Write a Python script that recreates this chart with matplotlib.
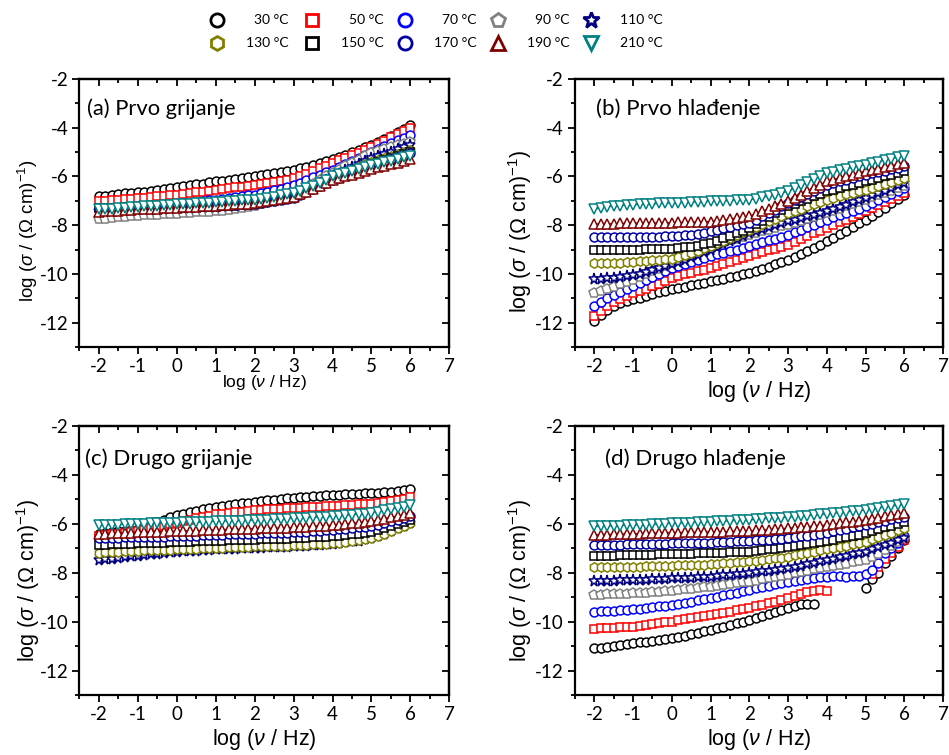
import numpy as np
import matplotlib
matplotlib.use('Agg')
import matplotlib.pyplot as plt
from matplotlib.ticker import MultipleLocator

# ---------------- fonts ----------------
plt.rcParams['font.family'] = 'Lato'
plt.rcParams['axes.unicode_minus'] = False
plt.rcParams['mathtext.fontset'] = 'custom'
plt.rcParams['mathtext.rm'] = 'Liberation Sans'
plt.rcParams['mathtext.it'] = 'Liberation Sans:italic'

nan = float('nan')

# ---------------- data ----------------
log_freq = [-2.00, -1.83, -1.67, -1.50, -1.33, -1.17,
            -1.00, -0.83, -0.67, -0.50, -0.33, -0.17,
            0.00, 0.17, 0.33, 0.50, 0.67, 0.83,
            1.00, 1.17, 1.33, 1.50, 1.67, 1.83,
            2.00, 2.17, 2.33, 2.50, 2.67, 2.83,
            3.00, 3.17, 3.33, 3.50, 3.67, 3.83,
            4.00, 4.17, 4.33, 4.50, 4.67, 4.83,
            5.00, 5.17, 5.33, 5.50, 5.67, 5.83,
            6.00]

temps = ['30 °C', '50 °C', '70 °C', '90 °C', '110 °C',
         '130 °C', '150 °C', '170 °C', '190 °C', '210 °C']
colors = ['#000000', '#FF0000', '#0000FF', '#808080', '#000080',
          '#808000', '#000000', '#0000A0', '#800000', '#008080']
markers = ['o', 's', 'o', 'p', '*', 'h', 's', 'o', '^', 'v']
msizes = [6.4, 5.8, 6.4, 7.0, 8.2, 6.8, 5.8, 6.4, 7.2, 7.2]
leg_msizes = [9.5, 8.5, 9.5, 10.5, 12.0, 10.0, 8.5, 9.5, 10.5, 10.5]

# (a) Prvo grijanje
a_030 = [-6.82, -6.79, -6.76, -6.73, -6.70, -6.68, -6.65,
         -6.62, -6.58, -6.55, -6.52, -6.48, -6.45,
         -6.41, -6.37, -6.33, -6.29, -6.24, -6.20,
         -6.17, -6.13, -6.10, -6.07, -6.03, -6.00,
         -5.96, -5.91, -5.87, -5.82, -5.77, -5.72,
         -5.66, -5.60, -5.53, -5.46, -5.38, -5.30,
         -5.21, -5.11, -5.01, -4.91, -4.81, -4.70,
         -4.58, -4.45, -4.32, -4.18, -4.04, -3.90]
a_050 = [-7.02, -7.00, -6.98, -6.96, -6.94, -6.92, -6.90,
         -6.87, -6.85, -6.82, -6.80, -6.77, -6.75,
         -6.72, -6.68, -6.65, -6.62, -6.58, -6.55,
         -6.52, -6.48, -6.45, -6.42, -6.38, -6.35,
         -6.31, -6.27, -6.23, -6.18, -6.13, -6.07,
         -5.98, -5.88, -5.77, -5.67, -5.56, -5.45,
         -5.34, -5.23, -5.12, -5.02, -4.91, -4.80,
         -4.67, -4.54, -4.40, -4.27, -4.13, -4.00]
a_070 = [-7.63, -7.59, -7.55, -7.51, -7.47, -7.43, -7.40,
         -7.36, -7.32, -7.28, -7.23, -7.19, -7.15,
         -7.12, -7.08, -7.05, -7.02, -6.98, -6.95,
         -6.92, -6.88, -6.85, -6.82, -6.78, -6.75,
         -6.69, -6.63, -6.57, -6.50, -6.43, -6.35,
         -6.25, -6.15, -6.04, -5.94, -5.83, -5.72,
         -5.60, -5.48, -5.36, -5.23, -5.10, -4.98,
         -4.87, -4.75, -4.64, -4.52, -4.41, -4.30]
a_090 = [-7.75, -7.73, -7.70, -7.68, -7.66, -7.64, -7.62,
         -7.60, -7.59, -7.57, -7.56, -7.54, -7.53,
         -7.51, -7.50, -7.48, -7.46, -7.45, -7.43,
         -7.40, -7.37, -7.33, -7.29, -7.25, -7.20,
         -7.13, -7.06, -6.99, -6.92, -6.86, -6.80,
         -6.64, -6.48, -6.32, -6.16, -6.00, -5.85,
         -5.72, -5.59, -5.45, -5.32, -5.18, -5.05,
         -4.97, -4.89, -4.81, -4.73, -4.65, -4.57]
a_110 = [-7.40, -7.39, -7.38, -7.37, -7.36, -7.36, -7.35,
         -7.34, -7.33, -7.32, -7.32, -7.31, -7.30,
         -7.29, -7.28, -7.27, -7.27, -7.26, -7.25,
         -7.23, -7.22, -7.20, -7.18, -7.17, -7.15,
         -7.10, -7.05, -7.00, -6.95, -6.90, -6.85,
         -6.71, -6.57, -6.42, -6.28, -6.14, -6.00,
         -5.88, -5.75, -5.63, -5.50, -5.38, -5.25,
         -5.16, -5.07, -4.98, -4.88, -4.79, -4.70]
a_130 = [-7.35, -7.34, -7.33, -7.33, -7.32, -7.31, -7.30,
         -7.29, -7.28, -7.27, -7.27, -7.26, -7.25,
         -7.24, -7.23, -7.22, -7.22, -7.21, -7.20,
         -7.19, -7.17, -7.16, -7.15, -7.13, -7.12,
         -7.08, -7.03, -6.99, -6.94, -6.90, -6.85,
         -6.72, -6.58, -6.45, -6.32, -6.18, -6.05,
         -5.94, -5.83, -5.72, -5.62, -5.51, -5.40,
         -5.32, -5.23, -5.15, -5.07, -4.98, -4.90]
a_150 = [-7.30, -7.29, -7.28, -7.28, -7.27, -7.26, -7.25,
         -7.24, -7.23, -7.22, -7.22, -7.21, -7.20,
         -7.19, -7.18, -7.17, -7.17, -7.16, -7.15,
         -7.14, -7.13, -7.12, -7.12, -7.11, -7.10,
         -7.06, -7.02, -6.98, -6.93, -6.89, -6.85,
         -6.73, -6.60, -6.48, -6.35, -6.23, -6.10,
         -6.00, -5.90, -5.80, -5.70, -5.60, -5.50,
         -5.42, -5.33, -5.25, -5.17, -5.08, -5.00]
a_170 = [-7.35, -7.34, -7.33, -7.33, -7.32, -7.31, -7.30,
         -7.29, -7.28, -7.27, -7.27, -7.26, -7.25,
         -7.24, -7.23, -7.22, -7.22, -7.21, -7.20,
         -7.19, -7.17, -7.16, -7.15, -7.13, -7.12,
         -7.08, -7.05, -7.01, -6.97, -6.94, -6.90,
         -6.78, -6.65, -6.53, -6.40, -6.28, -6.15,
         -6.05, -5.95, -5.85, -5.75, -5.65, -5.55,
         -5.47, -5.38, -5.30, -5.22, -5.13, -5.05]
a_190 = [-7.45, -7.43, -7.42, -7.40, -7.38, -7.37, -7.35,
         -7.34, -7.33, -7.32, -7.30, -7.29, -7.28,
         -7.27, -7.25, -7.24, -7.23, -7.21, -7.20,
         -7.18, -7.17, -7.15, -7.13, -7.12, -7.10,
         -7.06, -7.02, -6.98, -6.93, -6.89, -6.85,
         -6.73, -6.62, -6.50, -6.38, -6.27, -6.15,
         -6.08, -6.00, -5.93, -5.85, -5.78, -5.70,
         -5.63, -5.57, -5.50, -5.43, -5.37, -5.30]
a_210 = [-7.35, -7.33, -7.32, -7.30, -7.28, -7.27, -7.25,
         -7.23, -7.22, -7.20, -7.18, -7.17, -7.15,
         -7.13, -7.12, -7.10, -7.08, -7.07, -7.05,
         -7.03, -7.02, -7.00, -6.98, -6.97, -6.95,
         -6.91, -6.87, -6.83, -6.78, -6.74, -6.70,
         -6.60, -6.49, -6.38, -6.26, -6.13, -6.00,
         -5.92, -5.85, -5.77, -5.70, -5.62, -5.55,
         -5.48, -5.42, -5.35, -5.28, -5.22, -5.15]

# (b) Prvo hlađenje
b_030 = [-11.93, -11.69, -11.48, -11.32, -11.20, -11.12, -11.05,
         -10.97, -10.90, -10.83, -10.76, -10.70, -10.64,
         -10.58, -10.52, -10.47, -10.41, -10.36, -10.30,
         -10.25, -10.19, -10.13, -10.08, -10.02, -9.96,
         -9.88, -9.79, -9.70, -9.61, -9.51, -9.41,
         -9.30, -9.18, -9.06, -8.93, -8.80, -8.66,
         -8.52, -8.37, -8.22, -8.07, -7.92, -7.77,
         -7.61, -7.45, -7.28, -7.11, -6.93, -6.75]
b_050 = [-11.73, -11.52, -11.33, -11.16, -11.02, -10.90, -10.80,
         -10.70, -10.60, -10.50, -10.40, -10.28, -10.16,
         -10.09, -10.02, -9.95, -9.88, -9.82, -9.75,
         -9.67, -9.59, -9.51, -9.43, -9.35, -9.27,
         -9.19, -9.11, -9.03, -8.96, -8.88, -8.80,
         -8.69, -8.57, -8.46, -8.34, -8.23, -8.11,
         -8.00, -7.89, -7.77, -7.66, -7.54, -7.43,
         -7.31, -7.18, -7.06, -6.93, -6.81, -6.68]
b_070 = [-11.32, -11.15, -10.99, -10.85, -10.73, -10.61, -10.50,
         -10.37, -10.24, -10.12, -9.99, -9.87, -9.75,
         -9.67, -9.59, -9.51, -9.43, -9.35, -9.27,
         -9.20, -9.13, -9.06, -9.00, -8.93, -8.86,
         -8.78, -8.70, -8.62, -8.55, -8.47, -8.39,
         -8.29, -8.19, -8.08, -7.98, -7.87, -7.77,
         -7.68, -7.59, -7.50, -7.41, -7.32, -7.23,
         -7.10, -6.97, -6.85, -6.72, -6.60, -6.47]
b_090 = [-10.77, -10.70, -10.62, -10.53, -10.43, -10.33, -10.23,
         -10.12, -10.01, -9.89, -9.78, -9.66, -9.55,
         -9.43, -9.32, -9.20, -9.09, -8.97, -8.86,
         -8.78, -8.70, -8.62, -8.55, -8.47, -8.39,
         -8.32, -8.25, -8.18, -8.12, -8.05, -7.98,
         -7.90, -7.82, -7.74, -7.66, -7.58, -7.50,
         -7.41, -7.32, -7.22, -7.13, -7.04, -6.95,
         -6.86, -6.77, -6.68, -6.58, -6.49, -6.40]
b_110 = [-10.20, -10.19, -10.18, -10.16, -10.13, -10.09, -10.05,
         -9.99, -9.92, -9.85, -9.77, -9.69, -9.61,
         -9.51, -9.41, -9.31, -9.21, -9.10, -9.00,
         -8.89, -8.77, -8.66, -8.55, -8.43, -8.32,
         -8.24, -8.16, -8.08, -8.00, -7.92, -7.84,
         -7.77, -7.70, -7.63, -7.57, -7.50, -7.43,
         -7.34, -7.25, -7.16, -7.06, -6.97, -6.88,
         -6.78, -6.68, -6.58, -6.47, -6.37, -6.27]
b_130 = [-9.57, -9.57, -9.56, -9.55, -9.54, -9.52, -9.50,
         -9.48, -9.46, -9.44, -9.42, -9.40, -9.37,
         -9.30, -9.22, -9.13, -9.04, -8.95, -8.86,
         -8.75, -8.64, -8.53, -8.41, -8.30, -8.18,
         -8.07, -7.95, -7.84, -7.73, -7.61, -7.50,
         -7.41, -7.32, -7.22, -7.13, -7.04, -6.95,
         -6.88, -6.81, -6.74, -6.68, -6.61, -6.54,
         -6.46, -6.38, -6.30, -6.23, -6.15, -6.07]
b_150 = [-9.03, -9.03, -9.02, -9.02, -9.01, -9.01, -9.00,
         -9.00, -8.99, -8.98, -8.98, -8.97, -8.96,
         -8.94, -8.91, -8.88, -8.84, -8.79, -8.73,
         -8.64, -8.54, -8.43, -8.33, -8.22, -8.11,
         -7.96, -7.81, -7.66, -7.52, -7.37, -7.23,
         -7.13, -7.02, -6.92, -6.82, -6.71, -6.61,
         -6.54, -6.47, -6.40, -6.34, -6.27, -6.20,
         -6.13, -6.06, -6.00, -5.93, -5.86, -5.79]
b_170 = [-8.49, -8.49, -8.49, -8.48, -8.48, -8.48, -8.48,
         -8.48, -8.47, -8.47, -8.47, -8.46, -8.46,
         -8.44, -8.42, -8.39, -8.35, -8.31, -8.25,
         -8.19, -8.13, -8.07, -8.01, -7.96, -7.91,
         -7.77, -7.64, -7.50, -7.36, -7.23, -7.09,
         -6.96, -6.84, -6.71, -6.59, -6.46, -6.34,
         -6.27, -6.20, -6.13, -6.07, -6.00, -5.93,
         -5.87, -5.82, -5.76, -5.70, -5.65, -5.59]
b_190 = [-7.95, -7.95, -7.94, -7.94, -7.93, -7.93, -7.92,
         -7.92, -7.91, -7.91, -7.91, -7.90, -7.90,
         -7.89, -7.89, -7.88, -7.87, -7.86, -7.85,
         -7.82, -7.79, -7.75, -7.71, -7.67, -7.63,
         -7.53, -7.43, -7.33, -7.22, -7.12, -7.02,
         -6.88, -6.75, -6.61, -6.47, -6.34, -6.20,
         -6.13, -6.06, -6.00, -5.93, -5.86, -5.79,
         -5.73, -5.68, -5.62, -5.56, -5.51, -5.45]
b_210 = [-7.34, -7.29, -7.25, -7.22, -7.20, -7.18, -7.16,
         -7.15, -7.14, -7.13, -7.11, -7.10, -7.09,
         -7.08, -7.07, -7.06, -7.04, -7.03, -7.02,
         -7.01, -7.00, -6.99, -6.97, -6.96, -6.95,
         -6.91, -6.86, -6.81, -6.75, -6.68, -6.61,
         -6.48, -6.35, -6.22, -6.10, -5.98, -5.86,
         -5.80, -5.74, -5.69, -5.63, -5.58, -5.52,
         -5.46, -5.40, -5.33, -5.27, -5.21, -5.15]

# (c) Drugo grijanje (70 °C and 90 °C not shown)
c_030 = [-6.40, -6.37, -6.34, -6.31, -6.28, -6.24, -6.20,
         -6.12, -6.03, -5.93, -5.84, -5.74, -5.65,
         -5.58, -5.52, -5.46, -5.40, -5.35, -5.30,
         -5.26, -5.23, -5.19, -5.16, -5.13, -5.10,
         -5.07, -5.04, -5.01, -4.98, -4.96, -4.93,
         -4.91, -4.89, -4.87, -4.86, -4.84, -4.82,
         -4.81, -4.80, -4.79, -4.78, -4.76, -4.75,
         -4.73, -4.71, -4.68, -4.65, -4.62, -4.58]
c_050 = [-6.50, -6.47, -6.43, -6.40, -6.37, -6.33, -6.30,
         -6.24, -6.18, -6.12, -6.07, -6.01, -5.95,
         -5.89, -5.83, -5.78, -5.73, -5.67, -5.62,
         -5.59, -5.56, -5.53, -5.51, -5.48, -5.45,
         -5.43, -5.41, -5.40, -5.38, -5.37, -5.35,
         -5.34, -5.32, -5.31, -5.30, -5.28, -5.27,
         -5.26, -5.24, -5.23, -5.21, -5.20, -5.18,
         -5.14, -5.10, -5.06, -5.01, -4.97, -4.92]
c_070 = None
c_090 = None
c_110 = [-7.48, -7.45, -7.42, -7.39, -7.36, -7.33, -7.30,
         -7.27, -7.25, -7.22, -7.20, -7.17, -7.15,
         -7.13, -7.12, -7.10, -7.08, -7.07, -7.05,
         -7.04, -7.03, -7.02, -7.00, -6.99, -6.98,
         -6.97, -6.96, -6.95, -6.94, -6.93, -6.92,
         -6.90, -6.89, -6.87, -6.85, -6.84, -6.82,
         -6.79, -6.76, -6.72, -6.69, -6.64, -6.60,
         -6.50, -6.40, -6.29, -6.18, -6.07, -5.95]
c_130 = [-7.18, -7.17, -7.15, -7.14, -7.13, -7.11, -7.10,
         -7.09, -7.08, -7.08, -7.07, -7.06, -7.05,
         -7.04, -7.03, -7.02, -7.00, -6.99, -6.98,
         -6.97, -6.96, -6.95, -6.94, -6.93, -6.92,
         -6.91, -6.91, -6.90, -6.89, -6.89, -6.88,
         -6.87, -6.85, -6.84, -6.83, -6.81, -6.80,
         -6.77, -6.74, -6.71, -6.68, -6.64, -6.60,
         -6.50, -6.40, -6.29, -6.18, -6.07, -5.95]
c_150 = [-6.86, -6.85, -6.84, -6.83, -6.82, -6.81, -6.80,
         -6.79, -6.78, -6.78, -6.77, -6.76, -6.75,
         -6.74, -6.73, -6.72, -6.72, -6.71, -6.70,
         -6.69, -6.68, -6.67, -6.67, -6.66, -6.65,
         -6.64, -6.63, -6.62, -6.62, -6.61, -6.60,
         -6.58, -6.57, -6.55, -6.53, -6.52, -6.50,
         -6.48, -6.45, -6.43, -6.40, -6.38, -6.35,
         -6.27, -6.19, -6.10, -6.02, -5.94, -5.85]
c_170 = [-6.59, -6.58, -6.58, -6.57, -6.56, -6.56, -6.55,
         -6.54, -6.53, -6.53, -6.52, -6.51, -6.50,
         -6.49, -6.48, -6.48, -6.47, -6.46, -6.45,
         -6.44, -6.43, -6.43, -6.42, -6.41, -6.40,
         -6.39, -6.38, -6.38, -6.37, -6.36, -6.35,
         -6.33, -6.32, -6.30, -6.28, -6.27, -6.25,
         -6.23, -6.20, -6.18, -6.15, -6.13, -6.10,
         -6.03, -5.97, -5.90, -5.83, -5.77, -5.70]
c_190 = [-6.41, -6.40, -6.39, -6.38, -6.37, -6.36, -6.35,
         -6.34, -6.33, -6.33, -6.32, -6.31, -6.30,
         -6.29, -6.28, -6.28, -6.27, -6.26, -6.25,
         -6.24, -6.23, -6.23, -6.22, -6.21, -6.20,
         -6.19, -6.18, -6.18, -6.17, -6.16, -6.15,
         -6.13, -6.12, -6.10, -6.08, -6.07, -6.05,
         -6.03, -6.00, -5.98, -5.95, -5.93, -5.90,
         -5.85, -5.79, -5.74, -5.68, -5.63, -5.57]
c_210 = [-6.05, -6.04, -6.03, -6.03, -6.02, -6.01, -6.00,
         -5.99, -5.98, -5.98, -5.97, -5.96, -5.95,
         -5.94, -5.93, -5.93, -5.92, -5.91, -5.90,
         -5.89, -5.88, -5.88, -5.87, -5.86, -5.85,
         -5.84, -5.83, -5.82, -5.80, -5.79, -5.78,
         -5.77, -5.75, -5.74, -5.73, -5.71, -5.70,
         -5.68, -5.65, -5.63, -5.60, -5.58, -5.55,
         -5.50, -5.45, -5.40, -5.35, -5.30, -5.25]

# (d) Drugo hlađenje
d_030 = [-11.09, -11.06, -11.02, -10.99, -10.95, -10.92, -10.88,
         -10.85, -10.82, -10.78, -10.75, -10.71, -10.68,
         -10.63, -10.57, -10.51, -10.45, -10.40, -10.34,
         -10.27, -10.20, -10.14, -10.07, -10.00, -9.93,
         -9.85, -9.77, -9.70, -9.62, -9.54, -9.45,
         -9.35, -9.29, -9.26, -9.28, nan, nan,
         nan, nan, nan, nan, nan, -8.63,
         -8.25, -8.00, -7.60, -7.30, -7.00, -6.66]
d_050 = [-10.30, -10.28, -10.27, -10.25, -10.23, -10.22, -10.20,
         -10.17, -10.13, -10.10, -10.07, -10.03, -10.00,
         -9.95, -9.91, -9.86, -9.81, -9.77, -9.72,
         -9.68, -9.63, -9.59, -9.54, -9.50, -9.45,
         -9.38, -9.31, -9.25, -9.18, -9.11, -9.04,
         -8.95, -8.87, -8.80, -8.74, -8.72, -8.76,
         nan, nan, nan, nan, nan, nan,
         -8.05, -7.75, -7.45, -7.20, -6.95, -6.65]
d_070 = [-9.59, -9.58, -9.56, -9.55, -9.53, -9.52, -9.50,
         -9.47, -9.44, -9.41, -9.38, -9.35, -9.32,
         -9.27, -9.23, -9.18, -9.13, -9.09, -9.04,
         -8.98, -8.93, -8.87, -8.81, -8.76, -8.70,
         -8.64, -8.59, -8.53, -8.47, -8.42, -8.36,
         -8.32, -8.28, -8.24, -8.21, -8.18, -8.16,
         -8.15, -8.15, -8.16, -8.15, -8.12, -8.07,
         -7.88, -7.60, -7.20, -7.00, -6.80, -6.50]
d_090 = [-8.91, -8.90, -8.89, -8.88, -8.87, -8.86, -8.85,
         -8.83, -8.81, -8.79, -8.77, -8.75, -8.73,
         -8.70, -8.68, -8.65, -8.62, -8.60, -8.57,
         -8.53, -8.50, -8.46, -8.43, -8.39, -8.36,
         -8.32, -8.27, -8.23, -8.18, -8.14, -8.09,
         -8.03, -7.98, -7.92, -7.86, -7.81, -7.75,
         -7.71, -7.67, -7.63, -7.58, -7.53, -7.48,
         -7.37, -7.23, -7.07, -6.92, -6.76, -6.59]
d_110 = [-8.34, -8.33, -8.33, -8.32, -8.31, -8.31, -8.30,
         -8.29, -8.28, -8.27, -8.25, -8.24, -8.23,
         -8.22, -8.21, -8.20, -8.18, -8.17, -8.16,
         -8.14, -8.11, -8.09, -8.07, -8.04, -8.02,
         -7.99, -7.95, -7.92, -7.89, -7.85, -7.82,
         -7.76, -7.71, -7.65, -7.59, -7.54, -7.48,
         -7.42, -7.37, -7.31, -7.25, -7.20, -7.14,
         -7.05, -6.96, -6.86, -6.77, -6.68, -6.59]
d_130 = [-7.78, -7.78, -7.77, -7.77, -7.77, -7.76, -7.76,
         -7.75, -7.74, -7.73, -7.73, -7.72, -7.71,
         -7.70, -7.69, -7.68, -7.68, -7.67, -7.66,
         -7.64, -7.62, -7.60, -7.58, -7.56, -7.54,
         -7.51, -7.48, -7.44, -7.41, -7.38, -7.34,
         -7.29, -7.24, -7.19, -7.14, -7.09, -7.04,
         -6.99, -6.94, -6.89, -6.83, -6.78, -6.73,
         -6.64, -6.55, -6.46, -6.36, -6.27, -6.18]
d_150 = [-7.31, -7.31, -7.30, -7.30, -7.29, -7.29, -7.28,
         -7.27, -7.27, -7.26, -7.25, -7.25, -7.24,
         -7.23, -7.23, -7.22, -7.21, -7.21, -7.20,
         -7.19, -7.18, -7.17, -7.16, -7.15, -7.14,
         -7.11, -7.08, -7.05, -7.02, -6.99, -6.96,
         -6.92, -6.88, -6.83, -6.79, -6.74, -6.70,
         -6.65, -6.60, -6.55, -6.49, -6.44, -6.39,
         -6.31, -6.23, -6.15, -6.07, -5.99, -5.91]
d_170 = [-6.86, -6.86, -6.85, -6.85, -6.85, -6.84, -6.84,
         -6.83, -6.83, -6.82, -6.81, -6.81, -6.80,
         -6.79, -6.79, -6.78, -6.78, -6.77, -6.77,
         -6.76, -6.75, -6.74, -6.72, -6.71, -6.70,
         -6.68, -6.66, -6.65, -6.63, -6.61, -6.59,
         -6.55, -6.51, -6.48, -6.44, -6.40, -6.36,
         -6.31, -6.26, -6.21, -6.15, -6.10, -6.05,
         -5.99, -5.94, -5.88, -5.82, -5.77, -5.71]
d_190 = [-6.45, -6.44, -6.44, -6.43, -6.42, -6.42, -6.41,
         -6.40, -6.39, -6.38, -6.38, -6.37, -6.36,
         -6.36, -6.35, -6.35, -6.34, -6.34, -6.33,
         -6.32, -6.32, -6.31, -6.30, -6.30, -6.29,
         -6.27, -6.25, -6.24, -6.22, -6.20, -6.18,
         -6.16, -6.14, -6.12, -6.09, -6.07, -6.05,
         -6.01, -5.98, -5.94, -5.91, -5.87, -5.84,
         -5.79, -5.75, -5.70, -5.66, -5.61, -5.57]
d_210 = [-6.11, -6.10, -6.09, -6.08, -6.07, -6.06, -6.05,
         -6.04, -6.03, -6.02, -6.00, -5.99, -5.98,
         -5.97, -5.96, -5.95, -5.93, -5.92, -5.91,
         -5.90, -5.89, -5.88, -5.86, -5.85, -5.84,
         -5.82, -5.80, -5.78, -5.77, -5.75, -5.73,
         -5.71, -5.69, -5.67, -5.64, -5.62, -5.60,
         -5.57, -5.54, -5.51, -5.49, -5.46, -5.43,
         -5.39, -5.35, -5.31, -5.28, -5.24, -5.20]

panel_a = [a_030, a_050, a_070, a_090, a_110, a_130, a_150, a_170, a_190, a_210]
panel_b = [b_030, b_050, b_070, b_090, b_110, b_130, b_150, b_170, b_190, b_210]
panel_c = [c_030, c_050, c_070, c_090, c_110, c_130, c_150, c_170, c_190, c_210]
panel_d = [d_030, d_050, d_070, d_090, d_110, d_130, d_150, d_170, d_190, d_210]

# ---------------- figure ----------------
fig = plt.figure(figsize=(9.49, 7.55), dpi=100)

# panel layout: rect, title, title pos, sizes, label positions
panels = [
    dict(rect=[0.0836, 0.5404, 0.3899, 0.3550], data=panel_a, title='(a) Prvo grijanje',
         tpos=(0.022, 0.888), tsize=15.8, ypos=(-0.138, 0.433), ysize=13.5,
         xpos=-0.134, xsize=12.5),
    dict(rect=[0.6059, 0.5404, 0.3878, 0.3550], data=panel_b, title='(b) Prvo hlađenje',
         tpos=(0.057, 0.888), tsize=16, ypos=(-0.149, 0.433), ysize=15.5,
         xpos=-0.165, xsize=15.5),
    dict(rect=[0.0836, 0.0795, 0.3899, 0.3563], data=panel_c, title='(c) Drugo grijanje',
         tpos=(0.016, 0.877), tsize=16, ypos=(-0.138, 0.427), ysize=15.5,
         xpos=-0.167, xsize=15.5),
    dict(rect=[0.6059, 0.0795, 0.3878, 0.3563], data=panel_d, title='(d) Drugo hlađenje',
         tpos=(0.082, 0.877), tsize=16, ypos=(-0.149, 0.427), ysize=15.5,
         xpos=-0.167, xsize=15.5),
]

ylab = r'log ($\sigma$ / ($\Omega$ cm)$^{-1}$)'
xlab = r'log ($\nu$ / Hz)'

for p in panels:
    ax = fig.add_axes(p['rect'])
    for vals, col, mk, ms in zip(p['data'], colors, markers, msizes):
        if vals is None:
            continue
        ax.plot(log_freq, vals, color=col, lw=0.9, marker=mk, ms=ms,
                mfc='white', mec=col, mew=1.1)

    ax.set_xlim(-2.5, 7)
    ax.set_ylim(-13, -2)
    ax.set_xticks(range(-2, 8))
    ax.set_yticks(range(-12, -1, 2))
    ax.xaxis.set_minor_locator(MultipleLocator(0.5))
    ax.yaxis.set_minor_locator(MultipleLocator(1))
    ax.tick_params(which='both', direction='out', width=1.3, labelsize=13.5)
    ax.tick_params(which='major', length=5)
    ax.tick_params(which='minor', length=3)
    ax.tick_params(axis='y', pad=3)
    ax.tick_params(axis='x', pad=3)
    for s in ax.spines.values():
        s.set_linewidth(1.6)

    # inward ticks on top and right
    top = ax.secondary_xaxis('top')
    top.set_xticks(range(-2, 8))
    top.xaxis.set_minor_locator(MultipleLocator(0.5))
    top.tick_params(which='both', direction='in', width=1.3, labeltop=False)
    top.tick_params(which='major', length=5)
    top.tick_params(which='minor', length=3)
    right = ax.secondary_yaxis('right')
    right.set_yticks(range(-12, -1, 2))
    right.yaxis.set_minor_locator(MultipleLocator(1))
    right.tick_params(which='both', direction='in', width=1.3, labelright=False)
    right.tick_params(which='major', length=5)
    right.tick_params(which='minor', length=3)
    top.spines['top'].set_linewidth(1.6)
    right.spines['right'].set_linewidth(1.6)

    ax.text(p['tpos'][0], p['tpos'][1], p['title'], transform=ax.transAxes,
            ha='left', va='center', fontsize=p['tsize'])
    ax.text(p['ypos'][0], p['ypos'][1], ylab, transform=ax.transAxes, rotation=90,
            ha='center', va='center', fontsize=p['ysize'], family='Liberation Sans')
    ax.text(0.5, p['xpos'], xlab, transform=ax.transAxes,
            ha='center', va='center', fontsize=p['xsize'], family='Liberation Sans')

# ---------------- legend (two rows, labels right aligned) ----------------
leg = fig.add_axes([0, 0, 1, 1], facecolor='none')
leg.set_xlim(0, 949)
leg.set_ylim(755, 0)
leg.axis('off')
leg_col_x = [217, 312, 405, 498, 591]
leg_row_y = [20, 43]
for k in range(10):
    r, c = divmod(k, 5)
    leg.plot(leg_col_x[c], leg_row_y[r], linestyle='none', marker=markers[k],
             ms=leg_msizes[k], mfc='none', mec=colors[k], mew=2.0)
    leg.text(leg_col_x[c] + 72, leg_row_y[r], temps[k], ha='right', va='center',
             fontsize=10)

fig.savefig('out.png', dpi=100, facecolor='white')
